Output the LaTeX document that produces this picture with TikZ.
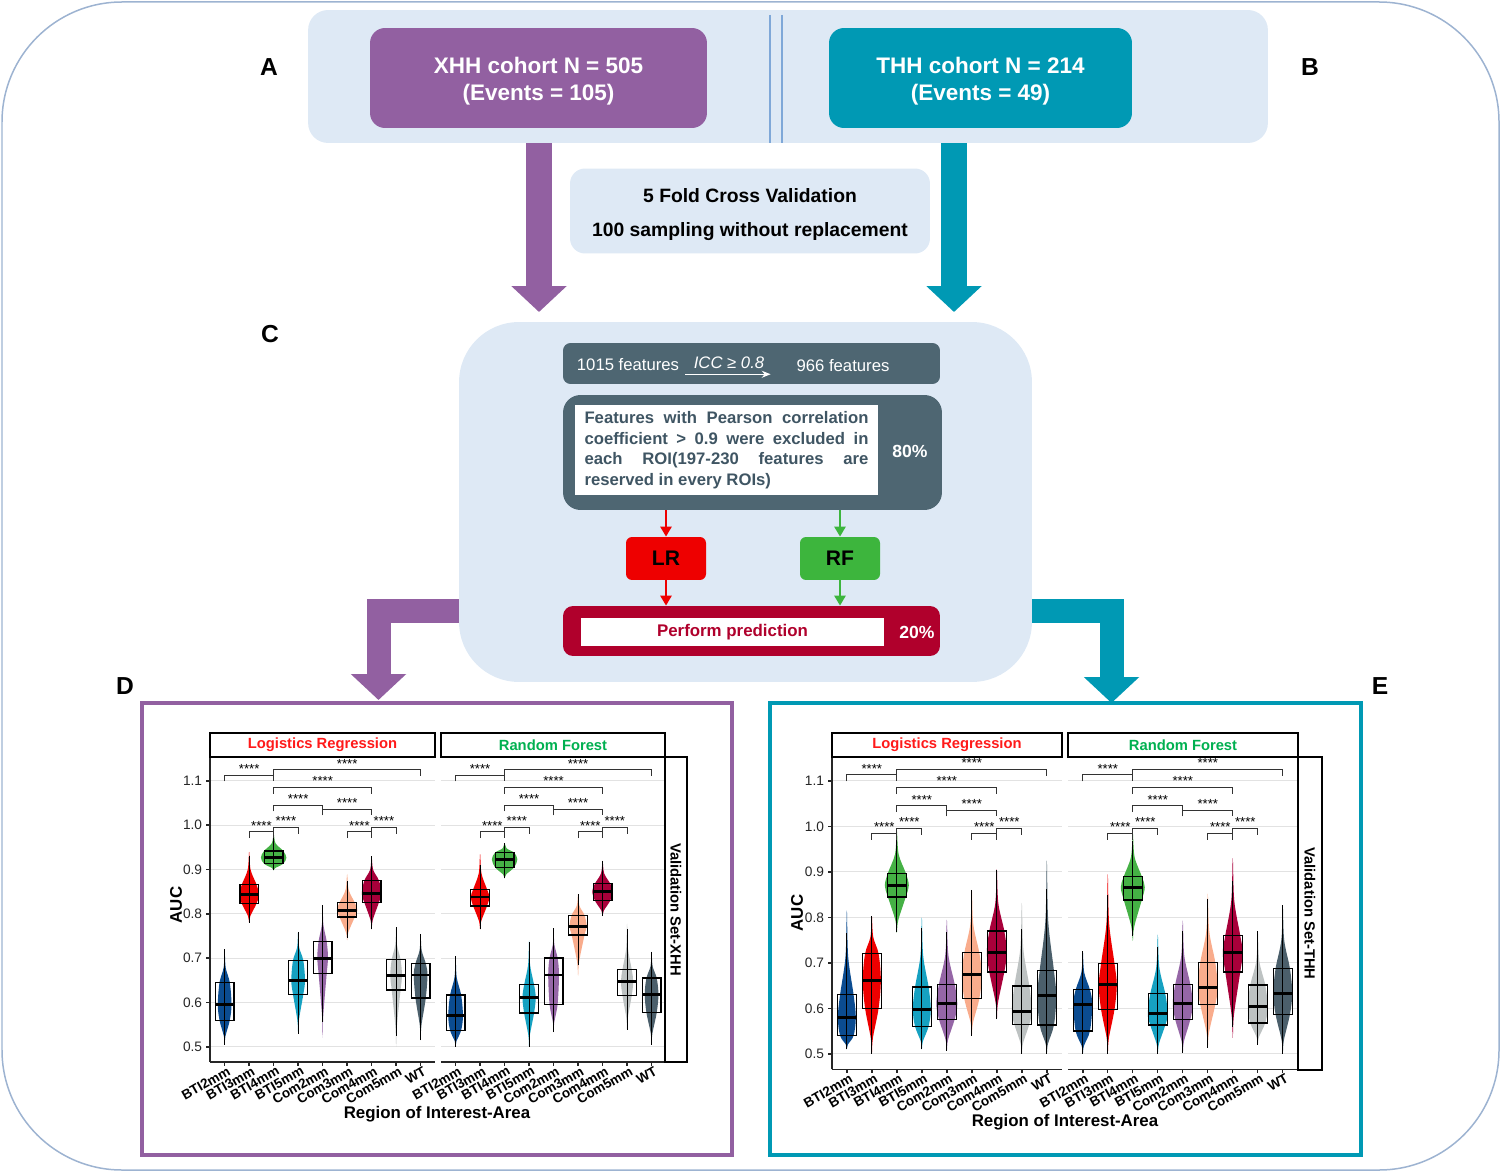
\documentclass[tikz,border=0pt]{standalone}
\usepackage{fontspec}
\setmainfont{Liberation Sans}
\usetikzlibrary{arrows.meta,calc,positioning}

\definecolor{xhhpurple}{HTML}{9260A1}
\definecolor{thhteal}{HTML}{0099B4}
\definecolor{paleblue}{HTML}{DEE9F5}
\definecolor{slatebox}{HTML}{4E6672}
\definecolor{slatetext}{HTML}{3F5563}
\definecolor{lrred}{HTML}{EE0000}
\definecolor{rfgreen}{HTML}{3DB53D}
\definecolor{predred}{HTML}{B0002C}
\definecolor{framegray}{HTML}{9DB3D1}
\definecolor{divblue}{HTML}{7FA8D8}
\definecolor{stripred}{HTML}{FF1A1A}
\definecolor{stripgreen}{HTML}{00B050}
\definecolor{gridgray}{HTML}{E2E2E2}
\definecolor{vc1}{HTML}{0B4C91}
\definecolor{vc2}{HTML}{EE0000}
\definecolor{vc3}{HTML}{45B145}
\definecolor{vc4}{HTML}{16A1C1}
\definecolor{vc5}{HTML}{9566A6}
\definecolor{vc6}{HTML}{F9AC8C}
\definecolor{vc7}{HTML}{A8003A}
\definecolor{vc8}{HTML}{BDC2C2}
\definecolor{vc9}{HTML}{4B5F6B}

\tikzset{
  cohort/.style={rounded corners=0.3cm,minimum height=2cm},
  cohorttxt/.style={text=white,align=center,font=\fontsize{12.8}{15.4}\selectfont\bfseries},
  darkbox/.style={fill=slatebox,rounded corners=0.3cm,inner sep=0pt},
  model/.style={rounded corners=0.12cm,minimum width=1.6cm,minimum height=0.86cm,
    font=\fontsize{12}{14}\selectfont\bfseries},
  pct/.style={text=white,font=\fontsize{10}{12}\selectfont\bfseries},
  feat/.style={text=white,font=\fontsize{9.5}{11}\selectfont},
  thinarr/.style={line width=0.05cm,-{Triangle[length=0.2cm,width=0.22cm]}},
  blockarr/.style={line width=0.52cm,-{Triangle[length=0.52cm,width=1.08cm]}},
  letter/.style={font=\fontsize{14}{16}\selectfont\bfseries},
  strip/.style={draw=black,line width=1.5pt,fill=white,minimum height=0.48cm,inner sep=0pt,
    font=\fontsize{8.4}{10}\selectfont\bfseries},
  axtitle/.style={font=\fontsize{9.6}{11}\selectfont\bfseries},
  gridln/.style={gridgray,line width=0.7pt},
  brk/.style={line width=0.5pt,black!80},
  stars/.style={font=\fontsize{7.5}{8}\selectfont,inner sep=0pt,anchor=base},
  axisln/.style={line width=0.8pt,black!85},
  xlab/.style={anchor=north east,rotate=30,inner sep=0pt,font=\fontsize{7.7}{9}\selectfont\bfseries},
  ylab/.style={anchor=east,inner sep=0pt,text=black!85,font=\fontsize{7.8}{9}\selectfont},
  boxst/.style={line width=0.75pt},
  medst/.style={line width=1.7pt},
  whisk/.style={line width=0.6pt},
  dlr/.style={shift={(4.494cm,-25.373cm)},x={(0.49cm,0)},y={(0,8.866cm)}},
  drf/.style={shift={(9.114cm,-25.373cm)},x={(0.49cm,0)},y={(0,8.866cm)}},
  elr/.style={shift={(16.94cm,-25.63cm)},x={(0.5cm,0)},y={(0,9.1cm)}},
  erf/.style={shift={(21.66cm,-25.63cm)},x={(0.5cm,0)},y={(0,9.1cm)}}
}

\newcommand{\jline}[1]{\makebox[5.68cm][s]{#1}}

% one facet: grid, violins with boxes, brackets, x axis
\newcommand{\facet}[2]{%
  \begin{scope}[#1]
    \foreach \g in {0.5,0.6,0.7,0.8,0.9,1.0,1.1}
      \draw[gridln] (-0.6,\g) -- (8.6,\g);
    \foreach \i/\lo/\qa/\md/\qb/\hi/\w in {#2} {
      \pgfmathsetmacro\x{\i-1}
      \pgfmathsetmacro\la{\lo+0.35*(\qa-\lo)}
      \pgfmathsetmacro\hb{\qb+0.45*(\hi-\qb)}
      \pgfmathsetmacro\wlo{max(\lo,\qa-1.5*(\qb-\qa))}
      \pgfmathsetmacro\whi{min(\hi,\qb+1.5*(\qb-\qa))}
      \fill[fill=vc\i] plot[smooth cycle,tension=0.55] coordinates {
        (\x,\lo) ({\x+0.12*\w},\la) ({\x+0.75*\w},\qa) ({\x+\w},\md)
        ({\x+0.75*\w},\qb) ({\x+0.15*\w},\hb) (\x,\hi) ({\x-0.15*\w},\hb)
        ({\x-0.75*\w},\qb) ({\x-\w},\md) ({\x-0.75*\w},\qa) ({\x-0.12*\w},\la)};
      \draw[whisk] (\x,\wlo) -- (\x,\whi);
      \draw[boxst] ({\x-0.38},\qa) rectangle ({\x+0.38},\qb);
      \draw[medst] ({\x-0.38},\md) -- ({\x+0.38},\md);
    }
    \foreach \a/\b/\h/\m in {1/3/1.113/2,3/9/1.125/6,3/7/1.085/5,3/5/1.045/4,5/7/1.036/6,
        2/3/0.985/2.5,3/4/0.995/3.5,6/7/0.985/6.5,7/8/0.995/7.5} {
      \draw[brk] ({\a-1},{\h-0.014}) |- ({\b-1},\h) -- ({\b-1},{\h-0.014});
      \node[stars] at ({\m-1},{\h+0.004}) {****};
    }
    \draw[axisln] (-0.6,0.466) -- (8.6,0.466);
    \foreach \lab [count=\k from 0] in {BTI2mm,BTI3mm,BTI4mm,BTI5mm,Com2mm,Com3mm,Com4mm,Com5mm,WT} {
      \draw[axisln] (\k,0.466) -- ++(0,-0.08cm);
      \node[xlab] at ([xshift=0.04cm,yshift=-0.07cm]\k,0.466) {\lab};
    }
  \end{scope}}

% left axis of a panel
\newcommand{\yaxis}[1]{%
  \begin{scope}[#1]
    \draw[axisln] (-0.6,0.466) -- (-0.6,1.154);
    \foreach \g in {0.5,0.6,0.7,0.8,0.9,1.0,1.1} {
      \draw[axisln] (-0.6,\g) -- ++(-0.08cm,0);
      \node[ylab] at ([xshift=-0.15cm]-0.6,\g) {\g};
    }
  \end{scope}}

\begin{document}
\begin{tikzpicture}[x=0.02cm,y=-0.02cm]
  \useasboundingbox (0,0) rectangle (1501,1172);
  \draw[framegray,line width=0.03cm,rounded corners=2.4cm] (2,2) rectangle (1499,1170);

  % cohorts
  \node[fill=paleblue,rounded corners=0.4cm,minimum width=19.2cm,minimum height=2.66cm] (band) at (788,76.5) {};
  \draw[divblue,line width=0.6pt] (770,15) -- (770,143);
  \draw[divblue,line width=0.6pt] (782,15) -- (782,143);
  \node[cohort,fill=xhhpurple,minimum width=6.74cm] (xhh) at (538.5,78) {};
  \node[cohorttxt] (xhhtxt) at ([yshift=-0.06cm]xhh.center) {XHH cohort N = 505\\(Events = 105)};
  \node[cohort,fill=thhteal,minimum width=6.06cm] (thh) at (980.5,78) {};
  \node[cohorttxt] (thhtxt) at ([yshift=-0.06cm]thh.center) {THH cohort N = 214\\(Events = 49)};
  \node[letter] (la) at (269,67) {A};
  \node[letter] (lb) at (1310,67) {B};

  \node[fill=paleblue,rounded corners=0.3cm,minimum width=7.2cm,minimum height=1.7cm] (cv) at (750,211) {};
  \node[align=center,font=\fontsize{11}{19.3}\selectfont\bfseries] (cvtxt) at ([yshift=-0.08cm]cv.center)
    {5 Fold Cross Validation\\100 sampling without replacement};

  \coordinate (ptip) at (539,312);
  \coordinate (ttip) at (954,312);
  \draw[blockarr,xhhpurple] (band.south -| ptip) -- (ptip);
  \draw[blockarr,thhteal] (band.south -| ttip) -- (ttip);

  % model building
  \coordinate (dturn) at (378.5,611);
  \coordinate (dtip) at (378.5,700);
  \coordinate (eturn) at (1111.5,611);
  \coordinate (etip) at (1111.5,703);
  \node[fill=paleblue,rounded corners=1.2cm,minimum width=11.46cm,minimum height=7.2cm] (cbox) at (745.5,502) {};
  \draw[blockarr,xhhpurple,line width=0.48cm] (cbox.west |- dturn) -- (dturn) -- (dtip);
  \draw[blockarr,thhteal,line width=0.48cm] (cbox.east |- eturn) -- (eturn) -- (etip);
  \node[letter] (lc) at (270,334) {C};

  \node[darkbox,rounded corners=0.15cm,minimum width=7.54cm,minimum height=0.82cm] (iccbox) at (751.5,363.5) {};
  \node[feat] (f1) at (628,365) {1015 features};
  \node[feat] (f2) at (843,366) {966 features};
  \node[feat,inner sep=0pt,font=\fontsize{9.5}{11}\selectfont\itshape] (icc) at (729,363) {ICC ≥ 0.8};
  \draw[white,line width=0.6pt,-{Stealth[length=5pt,width=4pt]}]
    ([xshift=-0.16cm,yshift=-0.1cm]icc.south west) -- ([xshift=0.12cm,yshift=-0.1cm]icc.south east);

  \node[darkbox,rounded corners=0.35cm,minimum width=7.58cm,minimum height=2.3cm] (filt) at (752.5,452.5) {};
  \node[fill=white,minimum width=6.06cm,minimum height=1.8cm,inner xsep=0.2cm,text=slatetext,align=left,
    font=\fontsize{9.5}{11.7}\selectfont\bfseries] (pear) at (726.5,450)
    {\jline{Features with Pearson correlation}\\\jline{coefficient > 0.9 were excluded in}\\
     \jline{each ROI(197-230 features are}\\reserved in every ROIs)};
  \node[pct] (p80) at (910,451) {80\%};

  \node[model,fill=lrred] (lr) at (666,558.5) {LR};
  \node[model,fill=rfgreen] (rf) at (840,558.5) {RF};
  \node[darkbox,fill=predred,rounded corners=0.2cm,minimum width=7.54cm,minimum height=1.0cm] (pred) at (751.5,631) {};
  \node[fill=white,minimum width=6.06cm,minimum height=0.58cm,text=predred,
    font=\fontsize{9.6}{11}\selectfont\bfseries] (predin) at (732.5,632) {Perform prediction};
  \node[pct] (p20) at (917,632) {20\%};
  \draw[thinarr,lrred] (filt.south -| lr) -- (lr);
  \draw[thinarr,lrred] (lr) -- (pred.north -| lr);
  \draw[thinarr,rfgreen] (filt.south -| rf) -- (rf);
  \draw[thinarr,rfgreen] (rf) -- (pred.north -| rf);

  % validation panels
  \draw[xhhpurple,line width=0.08cm] (142,703) rectangle (732,1155);
  \draw[thhteal,line width=0.08cm] (770,703) rectangle (1361,1155);
  \node[letter] (ld) at (125,686) {D};
  \node[letter] (le) at (1380,686) {E};

  \facet{dlr}{1/0.505/0.56/0.595/0.645/0.72/0.28,2/0.78/0.823/0.843/0.866/0.94/0.4,
    3/0.898/0.913/0.927/0.942/0.98/0.52,4/0.53/0.618/0.65/0.695/0.76/0.28,
    5/0.52/0.665/0.70/0.738/0.82/0.22,6/0.74/0.793/0.808/0.825/0.89/0.42,
    7/0.765/0.826/0.845/0.875/0.93/0.4,8/0.50/0.628/0.66/0.697/0.77/0.24,
    9/0.515/0.61/0.662/0.688/0.755/0.28}
  \facet{drf}{1/0.50/0.537/0.57/0.617/0.705/0.3,2/0.765/0.818/0.838/0.855/0.935/0.38,
    3/0.88/0.905/0.923/0.938/0.96/0.52,4/0.50/0.576/0.611/0.64/0.74/0.27,
    5/0.533/0.596/0.662/0.70/0.768/0.22,6/0.66/0.752/0.772/0.797/0.845/0.35,
    7/0.795/0.83/0.851/0.868/0.92/0.42,8/0.538/0.615/0.647/0.675/0.778/0.25,
    9/0.505/0.577/0.618/0.655/0.715/0.28}
  \facet{elr}{1/0.51/0.54/0.58/0.63/0.815/0.36,2/0.50/0.60/0.662/0.72/0.803/0.36,
    3/0.766/0.845/0.87/0.897/0.99/0.48,4/0.51/0.56/0.598/0.647/0.80/0.36,
    5/0.507/0.576/0.61/0.653/0.795/0.42,6/0.54/0.621/0.674/0.722/0.861/0.4,
    7/0.576/0.68/0.723/0.77/0.906/0.4,8/0.50/0.565/0.594/0.649/0.832/0.4,
    9/0.50/0.563/0.628/0.683/0.925/0.38}
  \facet{erf}{1/0.50/0.55/0.608/0.641/0.725/0.38,2/0.50/0.598/0.652/0.698/0.895/0.36,
    3/0.748/0.838/0.866/0.89/0.985/0.48,4/0.50/0.563/0.588/0.632/0.762/0.4,
    5/0.502/0.575/0.611/0.653/0.793/0.4,6/0.513/0.608/0.646/0.701/0.852/0.4,
    7/0.535/0.68/0.722/0.76/0.93/0.4,8/0.52/0.568/0.603/0.651/0.77/0.4,
    9/0.50/0.586/0.633/0.688/0.826/0.38}
  \yaxis{dlr}
  \yaxis{elr}

  \node[strip,minimum width=4.5cm,text=stripred] (dlrs) at (322.5,745) {Logistics Regression};
  \node[strip,minimum width=4.48cm,text=stripgreen] (drfs) at (553,745) {Random Forest};
  \node[strip,rotate=-90,minimum width=6.1cm,minimum height=0.44cm] (dval) at (676,909.5) {Validation Set-XHH};
  \node[strip,minimum width=4.6cm,text=stripred] (elrs) at (947,745) {Logistics Regression};
  \node[strip,minimum width=4.6cm,text=stripgreen] (erfs) at (1183,745) {Random Forest};
  \node[strip,rotate=-90,minimum width=6.26cm,minimum height=0.48cm] (eval) at (1310,913.5) {Validation Set-THH};

  \node[axtitle,rotate=90] (dauc) at (176,905) {AUC};
  \node[axtitle,rotate=90] (eauc) at (797,913) {AUC};
  \node[axtitle] (droi) at (437,1114) {Region of Interest-Area};
  \node[axtitle] (eroi) at (1065,1122) {Region of Interest-Area};
\end{tikzpicture}
\end{document}
